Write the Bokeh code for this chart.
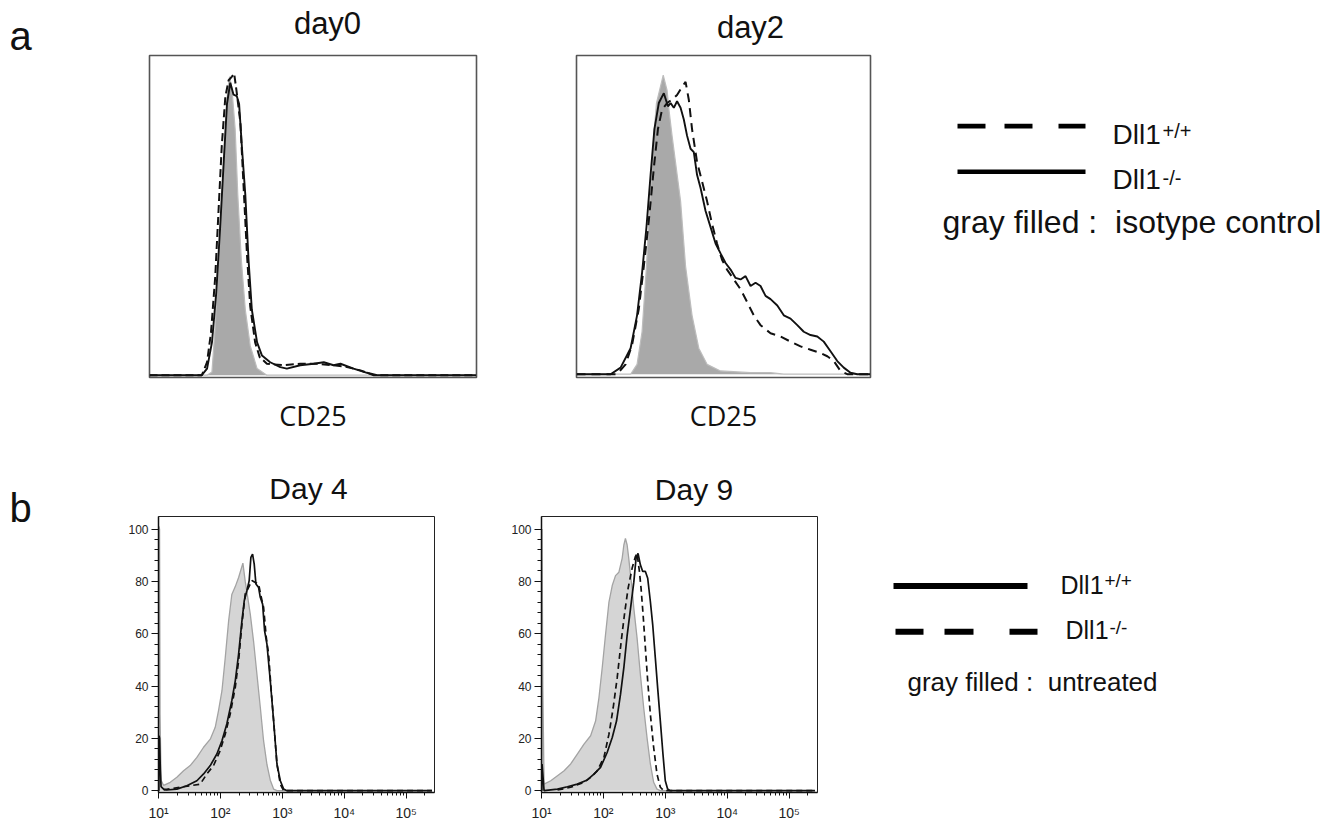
import numpy as np
from bokeh.plotting import figure
from bokeh.models import Range1d, FixedTicker
from bokeh.layouts import row, column
from bokeh.embed import file_html
from bokeh.resources import INLINE
from bokeh.core.properties import value

SANS = "Liberation Sans"

# ---------------- panel a : CD25 (logicle channel 0-100, % of max) ----------------
d0_iso_x = [0, 17.6, 19.1, 20.1, 21.1, 22.1, 23.2, 23.9, 24.5, 25.2, 26.2, 27.0, 28.1, 29.3, 30.8, 32.9, 35.9, 100]
d0_iso_y = [0, 0, 1.1, 16.3, 38, 59.8, 81.5, 94.6, 99, 95.1, 81.5, 59.8, 38, 21.7, 9.8, 2.2, 0, 0]
d0_ko_x = [0, 16.0, 17.6, 19.1, 20.4, 21.6, 22.7, 23.7, 24.7, 25.7, 26.7, 27.4, 28.3, 29.3, 30.3, 31.3, 32.9,
           34.4, 36.9, 40.0, 42.0, 46.1, 50.2, 53.3, 56.3, 58.4, 62.4, 66.5, 69.6, 100]
d0_ko_y = [0, 0, 2.2, 10.9, 27.2, 48.9, 70.7, 90.0, 97.0, 93.0, 92.5, 90.0, 75.0, 59.8, 38.0, 21.7, 10.9,
           6.5, 4.3, 2.7, 2.2, 3.3, 3.8, 4.3, 3.3, 3.8, 2.2, 0.8, 0, 0]
d0_wt_x = [0, 16.0, 17.6, 18.8, 20.1, 21.1, 22.1, 23.2, 24.2, 25.2, 25.9, 26.7, 27.8, 28.8, 29.8, 30.8, 32.3,
           33.7, 35.9, 41.0, 46.1, 51.2, 56.3, 60.4, 64.5, 68.6, 100]
d0_wt_y = [0, 0, 4.3, 14.1, 32.6, 54.3, 76.0, 92.4, 97.8, 99.0, 100, 93.5, 83.7, 62.0, 40.2, 22.8, 10.9,
           6.0, 3.8, 3.3, 3.8, 3.8, 3.3, 2.7, 1.6, 0, 0]

d2_iso_x = [0, 18.4, 20.6, 22.3, 23.8, 25.0, 26.3, 27.2, 29.5, 30.8, 31.5, 32.5, 35.4, 37.1, 39.3, 41.6, 44.4,
            49.0, 59.2, 66.0, 70.5, 100]
d2_iso_y = [0, 0, 3.3, 14.2, 36.1, 57.9, 79.8, 90.7, 100, 95, 88, 79.8, 57.9, 36.1, 19.7, 8.7, 3.3,
            1.1, 0.5, 0.5, 0, 0]
d2_ko_x = [0, 11.6, 15.0, 18.4, 20.6, 22.3, 23.8, 25.2, 26.5, 28.0, 29.7, 31.1, 32.0, 33.1, 34.2, 35.4, 36.5,
           37.6, 38.8, 39.9, 41.0, 42.2, 43.9, 45.6, 47.3, 49.0, 50.7, 52.4, 54.1, 55.8, 57.5, 59.2, 60.9,
           62.6, 64.3, 66.0, 68.3, 70.5, 72.8, 75.1, 77.3, 79.6, 81.9, 84.1, 86.4, 88.7, 90.9, 93.2, 95.5, 100]
d2_ko_y = [0, 0, 2.2, 8.7, 19.7, 33.9, 49.2, 66.7, 82.0, 90.7, 94.0, 89.6, 90.7, 89.1, 91.3, 89.1, 85.2,
           79.8, 75.4, 74.3, 66.7, 62.3, 54.6, 49.2, 43.7, 40.4, 37.2, 35.0, 32.2, 31.7, 32.8, 29.5, 30.6,
           29.5, 26.2, 25.1, 23.0, 19.7, 18.6, 16.4, 14.2, 13.1, 12.6, 10.9, 7.7, 4.4, 2.2, 0.5, 0, 0]
d2_wt_x = [0, 13.8, 16.7, 18.9, 21.2, 22.9, 24.6, 26.3, 27.7, 29.1, 30.8, 32.5, 34.2, 36.0, 37.1, 38.2, 39.3,
           41.0, 42.7, 44.4, 46.1, 47.8, 49.5, 51.2, 53.5, 55.8, 58.1, 60.3, 62.6, 66.0, 69.4, 72.8, 76.2,
           79.6, 83.0, 85.3, 87.5, 89.8, 92.1, 100]
d2_wt_y = [0, 0, 3.3, 9.8, 21.9, 36.1, 51.4, 68.9, 82.0, 88.5, 90.7, 91.8, 93.4, 96.2, 97.8, 91.8, 82.0,
           71.0, 64.5, 57.9, 50.3, 43.7, 38.3, 35.0, 31.7, 28.4, 24.0, 19.7, 16.4, 13.7, 12.6, 10.9, 9.3,
           8.2, 7.1, 6.0, 4.4, 1.1, 0, 0]

# ---------------- panel b : fluorescence intensity (log), % of max ----------------
d4_unt_x = [10.1, 10.2, 10.4, 10.6, 11.0, 12.1, 15.5, 19.8, 25.4, 32.5, 41.7, 53.5, 68.6, 82.5, 93.3, 106, 120,
            136, 153, 174, 197, 231, 252, 268, 304, 344, 389, 441, 499, 565, 640, 724, 820, 262000]
d4_unt_y = [0, 101, 100, 29, 4, 2, 3.2, 5.1, 7.6, 9.6, 12.7, 16.6, 19.7, 24.2, 30.6, 38.2, 51,
            65, 75, 78, 81.5, 87, 80, 76, 67.5, 57, 44.6, 32, 19, 10, 4, 0.6, 0, 0]
d4_wt_x = [10.1, 10.2, 10.4, 10.7, 11.0, 12.1, 13.6, 19.8, 28.7, 41.7, 53.5, 68.6, 87.7, 106, 127, 153, 174,
           197, 223, 243, 268, 292, 311, 331, 352, 375, 414, 441, 481, 518, 565, 640, 724, 820, 929, 1052,
           1190, 262000]
d4_wt_y = [0, 21, 20, 8, 1.5, 0.6, 0.25, 0.6, 1.9, 3.8, 6.4, 9.6, 14, 19.1, 25.5, 34.4, 42,
           52.2, 65, 72.6, 76.4, 80.3, 89.2, 90.4, 86.6, 79, 77.7, 73.9, 71.3, 61.1, 56, 42, 26.8, 10.2, 3.8, 0.6,
           0, 0]
d4_ko_x = [12.1, 22.4, 32.5, 47.2, 60.5, 77.5, 99, 120, 144, 174, 197, 223, 252, 286, 323, 366, 414, 452, 499,
           551, 601, 656, 724, 820, 929, 1052, 262000]
d4_ko_y = [0.3, 1.3, 1.9, 2.5, 6.4, 9.6, 15.3, 21.7, 29.3, 39.5, 49.7, 63.7, 75.2, 77.7, 80.3, 79.6, 79, 74.5, 70,
           58.6, 52.2, 39.5, 26.8, 10.2, 2.5, 0, 0]

d9_unt_x = [10.1, 10.2, 10.5, 11.0, 14.1, 18.1, 23.2, 29.6, 37.9, 48.6, 62.2, 74.8, 84.7, 95.7, 108, 123, 139,
            157, 178, 201, 214, 227, 242, 257, 274, 291, 310, 350, 396, 448, 507, 574, 649, 735, 832, 262000]
d9_unt_y = [0, 100, 40, 2.5, 3.8, 5.7, 7.6, 10.2, 14, 17.8, 21, 26.6, 35.5, 47, 59.4, 72.1, 78.4,
            82.2, 83.5, 88.8, 93.9, 96.4, 93.9, 88.8, 82.5, 77.4, 69.8, 58.4, 44.4, 31.7, 20.3, 10.2, 3.2, 0.6, 0, 0]
d9_wt_x = [10.1, 10.2, 10.6, 11.0, 18.1, 26.2, 37.9, 55, 70.3, 89.9, 115, 139, 163, 189, 214, 242, 274, 310,
           337, 363, 396, 432, 477, 520, 574, 626, 690, 753, 832, 917, 1000, 1091, 1203, 262000]
d9_wt_y = [0, 10.2, 5, 0, 0.6, 1.5, 2.5, 4.1, 6.3, 8.9, 14.6, 20.3, 26.6, 36.8, 47, 59.4, 69.5, 79.7,
           88.8, 90.7, 86.3, 83.8, 83.8, 81.2, 72.3, 63.5, 50.8, 39.3, 26.6, 14, 3.8, 0.6, 0, 0]
d9_ko_x = [18.1, 29.6, 48.6, 62.2, 79.6, 102, 123, 144, 167, 194, 222, 251, 291, 329, 350, 382, 406, 438, 477,
           520, 574, 649, 735, 832, 940, 262000]
d9_ko_y = [0.25, 1.3, 3.2, 5.1, 7.6, 12.7, 21.6, 31.7, 43.1, 57.1, 68.5, 77.4, 85, 89.5, 90.7, 83.8, 77.4, 67.3,
           54.6, 41.9, 29.2, 16.5, 6.3, 1.3, 0, 0]

y_ticks = [0, 20, 40, 60, 80, 100]
y_minor = [v for v in range(4, 100, 4) if v % 20]
x_ticks = [10, 100, 1000, 10000, 100000]
x_tick_labels = ["10\u00b9", "10\u00b2", "10\u00b3", "10\u2074", "10\u2075"]
x_minor = [m * d for d in x_ticks for m in range(2, 10) if m * d < 2.88e5]

PANEL_LETTERS = ["a", "b"]
TOP_TITLES = ["day0", "day2"]
X_LABEL = "CD25"
BOT_TITLES = ["Day 4", "Day 9"]
LEG_A = ["Dll1", "+/+", "Dll1", "-/-", "gray filled :\u00a0 isotype control"]
LEG_B = ["Dll1", "+/+", "Dll1", "-/-", "gray filled :\u00a0 untreated"]


def base(width, height, **kw):
    p = figure(width=width, height=height, output_backend="svg", toolbar_location=None, title=None,
               background_fill_color="white", border_fill_color="white", **kw)
    p.grid.visible = False
    return p


def canvas(width, height, x0, y0):
    """Blank text/key area whose ranges equal page pixels (y grows downward)."""
    p = base(width, height, x_range=Range1d(x0, x0 + width), y_range=Range1d(y0 + height, y0),
             min_border_left=0, min_border_right=0, min_border_top=0, min_border_bottom=0,
             x_axis_location=None, y_axis_location=None)
    p.outline_line_color = None
    return p


def txt(p, x, y, t, size, font=SANS, align="left"):
    # the renderer sets the alphabetic baseline ~0.36 em lower than the anchor; compensate
    px = float(size.replace("px", ""))
    yy = [v - 0.36 * px for v in y]
    p.text(x=x, y=yy, text=t, text_font=value(font), text_font_size=value(size),
           text_baseline="alphabetic", text_align=align, text_color="#111111")


def top_panel(width, height, mb, yr, iso, ko, wt, dash):
    p = base(width, height, x_range=Range1d(0, 100), y_range=Range1d(*yr),
             min_border_left=mb[0], min_border_right=mb[1], min_border_top=mb[2], min_border_bottom=mb[3],
             x_axis_location=None, y_axis_location=None)
    p.outline_line_color = "#555555"
    p.outline_line_width = 1.6
    p.varea(x=iso[0], y1=0, y2=iso[1], fill_color="#a9a9a9")
    p.line(iso[0], iso[1], line_color="#bdbdbd", line_width=1.2)
    p.line(wt[0], wt[1], line_color="#111111", line_width=2.0, line_dash=dash)
    p.line(ko[0], ko[1], line_color="#111111", line_width=1.9)
    return p


def bot_panel(width, height, mb, unt, wt, ko):
    p = base(width, height, x_axis_type="log", x_range=Range1d(10, 2.88e5), y_range=Range1d(-0.7, 104.8),
             min_border_left=mb[0], min_border_right=mb[1], min_border_top=mb[2], min_border_bottom=mb[3])
    p.outline_line_color = "#222222"
    p.outline_line_width = 1
    p.varea(x=unt[0], y1=0, y2=unt[1], fill_color="#d5d5d5")
    p.line(unt[0], unt[1], line_color="#a3a3a3", line_width=1.3)
    p.line(ko[0], ko[1], line_color="#111111", line_width=1.7, line_dash="6 4")
    p.line(wt[0], wt[1], line_color="#111111", line_width=1.7)
    p.yaxis.ticker = FixedTicker(ticks=y_ticks, minor_ticks=y_minor)
    p.xaxis.ticker = FixedTicker(ticks=x_ticks, minor_ticks=x_minor)
    p.xaxis.major_label_overrides = dict(zip(x_ticks, x_tick_labels))
    for ax in (p.xaxis[0], p.yaxis[0]):
        ax.axis_line_color = "#111111"
        ax.axis_line_width = 1.5
        ax.major_tick_line_color = "#111111"
        ax.minor_tick_line_color = "#111111"
        ax.major_tick_in = 0
        ax.minor_tick_in = 0
        ax.major_label_text_font = SANS
        ax.major_label_text_color = "#222222"
    p.yaxis.major_label_text_font_size = "12px"
    p.xaxis.major_label_text_font_size = "14px"
    p.yaxis.major_tick_out = 7
    p.yaxis.minor_tick_out = 4
    p.yaxis.major_label_standoff = 3
    p.xaxis.major_tick_out = 6
    p.xaxis.minor_tick_out = 3
    p.xaxis.major_label_standoff = 6
    return p


def legend(p, y_solid, y_dash, solid_x, dash_x, lw, dash_pat, labels, lab_pos, font, sup_font,
           gray_pos, gray_font):
    p.line(solid_x, [y_solid, y_solid], line_color="#000000", line_width=lw, line_cap="butt")
    p.line(dash_x, [y_dash, y_dash], line_color="#000000", line_width=lw, line_dash=dash_pat, line_cap="butt")
    (xa, ya), (xs, ys), (xb, yb), (xt, yt) = lab_pos
    txt(p, [xa, xb], [ya, yb], [labels[0], labels[2]], font)
    txt(p, [xs, xt], [ys, yt], [labels[1], labels[3]], sup_font)
    txt(p, [gray_pos[0]], [gray_pos[1]], [labels[4]], gray_font)


# ---- left strip with panel letters ----
left = canvas(68, 826, 0, 0)
txt(left, [9, 9], [50, 522], PANEL_LETTERS, "40px")

# ---- title band (page y 0-48) ----
band_top = canvas(1256, 48, 68, 0)
txt(band_top, [327, 750], [34, 38], TOP_TITLES, "31px", align="center")

# ---- row 1 (page y 48-390) ----
p0 = top_panel(458, 342, (81, 50, 7, 8), (-0.76, 106),
               (d0_iso_x, d0_iso_y), (d0_ko_x, d0_ko_y), (d0_wt_x, d0_wt_y), "8 4")
p2 = top_panel(374, 342, (50, 30, 1, 13), (-1.1, 106.6),
               (d2_iso_x, d2_iso_y), (d2_ko_x, d2_ko_y), (d2_wt_x, d2_wt_y), "9 6")
leg_a = canvas(424, 342, 900, 48)
legend(leg_a, y_solid=171.5, y_dash=123, solid_x=[957, 1085], dash_x=[957, 1085], lw=4.6,
       dash_pat="28 19 28 26", labels=LEG_A,
       lab_pos=((1112, 141.5), (1162, 135), (1112, 190), (1162, 185)),
       font="28px", sup_font="20px", gray_pos=(942, 236.5), gray_font="32px")

# ---- middle band (page y 390-512): x labels of a, titles of b ----
band_mid = canvas(1256, 122, 68, 390)
txt(band_mid, [312.5, 723], [425, 425], [X_LABEL, X_LABEL], "27px", font="Open Sans", align="center")
txt(band_mid, [308, 693.5], [499, 500], BOT_TITLES, "30px", align="center")

# ---- row 2 (page y 512-826) ----
p4 = bot_panel(422, 314, (90, 56, 4, 34), (d4_unt_x, d4_unt_y), (d4_wt_x, d4_wt_y), (d4_ko_x, d4_ko_y))
p9 = bot_panel(390, 314, (51, 63, 4, 34), (d9_unt_x, d9_unt_y), (d9_wt_x, d9_wt_y), (d9_ko_x, d9_ko_y))
leg_b = canvas(444, 314, 880, 512)
legend(leg_b, y_solid=591, y_dash=643, solid_x=[893, 1027], dash_x=[895, 1037], lw=6,
       dash_pat="28 21 29 36", labels=LEG_B,
       lab_pos=((1060, 599), (1104, 592), (1065, 650), (1109, 645)),
       font="25px", sup_font="19px", gray_pos=(907, 710), gray_font="26px")

right = column(band_top, row(p0, p2, leg_a), band_mid, row(p4, p9, leg_b))
layout = row(left, right)

open("out.html", "w").write(file_html(layout, INLINE))
